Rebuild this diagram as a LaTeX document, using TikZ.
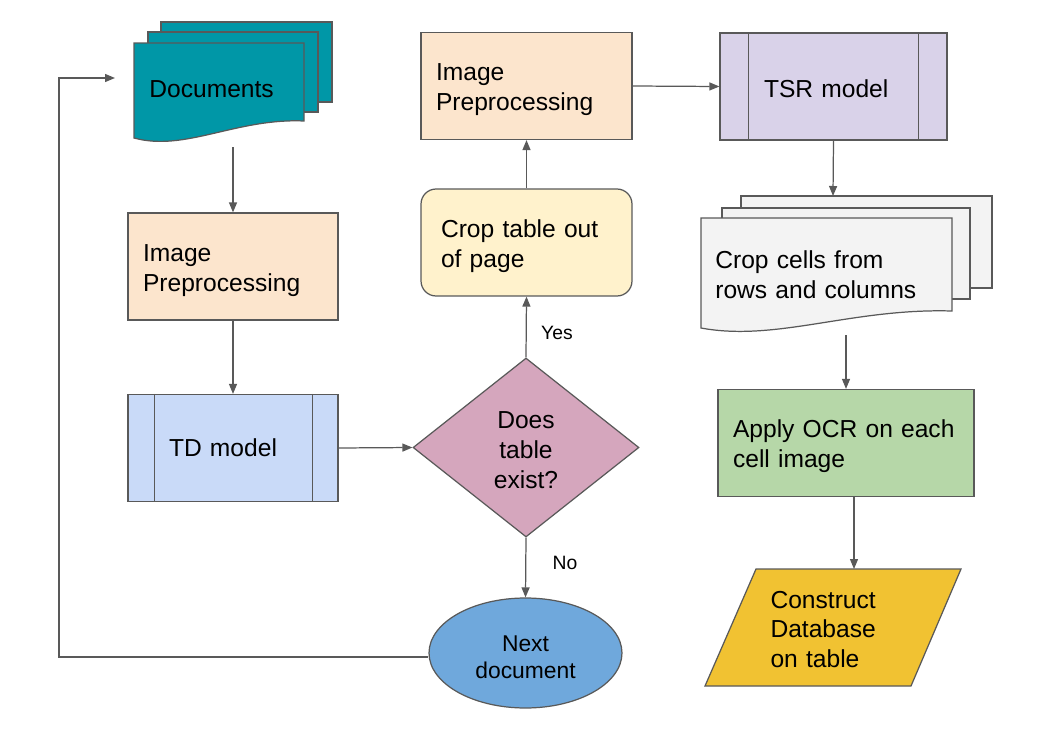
\documentclass[tikz,border=0pt]{standalone}
\usepackage{fontspec}
\setmainfont{Liberation Sans}
\usetikzlibrary{arrows.meta,calc,shapes.geometric}
\definecolor{linegray}{HTML}{595959}
\definecolor{docteal}{HTML}{0097A7}
\definecolor{prepeach}{HTML}{FCE5CD}
\definecolor{tdblue}{HTML}{C9DAF8}
\definecolor{decpink}{HTML}{D5A6BD}
\definecolor{cropyellow}{HTML}{FFF2CC}
\definecolor{tsrlilac}{HTML}{D9D2E9}
\definecolor{cellgray}{HTML}{F3F3F3}
\definecolor{ocrgreen}{HTML}{B6D7A8}
\definecolor{dbgold}{HTML}{F1C232}
\definecolor{nextblue}{HTML}{6FA8DC}
\newcommand\flowfont{\fontsize{14}{17}\selectfont}
\def\docsheet[#1](#2,#3)(#4,#5){\draw[#1] (#2,#5) -- (#2,#3) -- (#4,#3) -- (#4,{#5-17}) .. controls ({#2+0.6*(#4-#2)},{#5-20}) and ({#2+0.3*(#4-#2)},{#5+14}) .. (#2,#5) -- cycle;}

\begin{document}
\begin{tikzpicture}[x=0.02cm, y=-0.02cm,
		line/.style={draw=linegray, line width=0.7pt},
		arrow/.style={line, -{Triangle[length=0.2cm, width=0.16cm]}},
		lower/.style={text height=#1},
		box/.style={line, rectangle, minimum height=2.14cm, inner xsep=0.3cm, align=left, font=\flowfont},
		process/.style={box, minimum width=#1},
		sheettext/.style={inner sep=0pt, align=left, font=\flowfont, text width=4.7cm},
		lbl/.style={font=\fontsize{11}{13}\selectfont}]
			%%%%% START %%%%%
			\useasboundingbox (0,0) rectangle (1045,737);
			
			% stack of documents
			\draw[line, fill=docteal] (161,22) rectangle (332,102);
			\draw[line, fill=docteal] (148,32) rectangle (318,112);
			\docsheet[line, fill=docteal](134,43)(304,138)
			\node[sheettext, anchor=west] (docs) at (149,89) {Documents};
			
			\node[box, fill=prepeach, text width=3.6cm, lower=14.2pt] (imgL) at (233,266.5) {Image\\Preprocessing};
			
			\node[process=4.2cm, fill=tdblue, inner xsep=0.82cm, text width=2.56cm] (td) at (233,448) {TD model};
			\draw[line] ($(td.north west)+(27,0)$) -- ($(td.south west)+(27,0)$);
			\draw[line] ($(td.north east)-(26,0)$) -- ($(td.south east)-(26,0)$);
			
			\node[line, diamond, fill=decpink, minimum width=4.52cm, minimum height=3.58cm, inner sep=0pt, align=center, font=\flowfont, lower=46.5pt] (dec) at (526,447.5) {Does\\table\\exist?};
			
			\node[box, fill=cropyellow, rounded corners=0.3cm, inner xsep=0.4cm, text width=3.42cm, lower=14.2pt] (crop) at (526.5,242.5) {Crop table out\\of page};
			
			\node[box, fill=prepeach, text width=3.62cm, lower=14.2pt] (imgT) at (526.5,86) {Image\\Preprocessing};
			
			\node[process=4.54cm, fill=tsrlilac, inner xsep=0.88cm, text width=2.78cm, lower=12.5pt] (tsr) at (833.5,86.5) {TSR model};
			\draw[line] ($(tsr.north west)+(29,0)$) -- ($(tsr.south west)+(29,0)$);
			\draw[line] ($(tsr.north east)-(29,0)$) -- ($(tsr.south east)-(29,0)$);
			
			% stack of cell crops
			\draw[line, fill=cellgray] (741,196) rectangle (992,288);
			\draw[line, fill=cellgray] (722,208) rectangle (970,299);
			\docsheet[line, fill=cellgray](701,218)(952,328)
			\node[sheettext, anchor=west] (cells) at (715,275) {Crop cells from\\rows and columns};
			
			\node[box, fill=ocrgreen, text width=4.52cm, lower=14.2pt] (ocr) at (846,443) {Apply OCR on each\\cell image};
			
			% parallelogram
			\draw[line, fill=dbgold] (756,569) -- (961,569) -- (911,686) -- (705,686) -- cycle;
			\node[inner sep=0pt, text width=2.5cm, align=left, font=\flowfont] (db) at (833,629.5) {Construct\\Database\\on table};
			
			\node[line, ellipse, fill=nextblue, minimum width=3.86cm, minimum height=2.2cm, inner sep=0pt, align=center, font=\fontsize{13}{15.5}\selectfont, lower=29.4pt] (next) at (525.5,653) {Next\\document};
			
			% connectors
			\coordinate (docsout) at (233,147);
			\coordinate (docsin) at (115,78);
			\coordinate (loop) at (59,78);
			\coordinate (cellsin) at (833,196);
			\coordinate (cellsout) at (846,335);
			\coordinate (ocrout) at (854,496);
			\coordinate (dbin) at (854,569);
			
			\draw[arrow] (docsout) -- (imgL.north);
			\draw[arrow] (imgL.south) -- (td.north);
			\draw[arrow] (td.east) -- (dec.west);
			\draw[arrow] (dec.north) -- (crop.south);
			\node[lbl] (yes) at (557,333) {Yes};
			\draw[arrow] (crop.north) -- (imgT.south);
			\draw[arrow] (imgT.east) -- (tsr.west);
			\draw[arrow] (tsr.south) -- (cellsin);
			\draw[arrow] (cellsout) -- (ocr.north);
			\draw[arrow] (ocrout) -- (dbin);
			\draw[arrow] (dec.south) -- (next.north);
			\node[lbl] (no) at (565,563) {No};
			\draw[arrow] ($(next.west)+(0,4)$) -| (loop) -- (docsin);
			
			%%%%% END %%%%%
		\end{tikzpicture}
\end{document}
